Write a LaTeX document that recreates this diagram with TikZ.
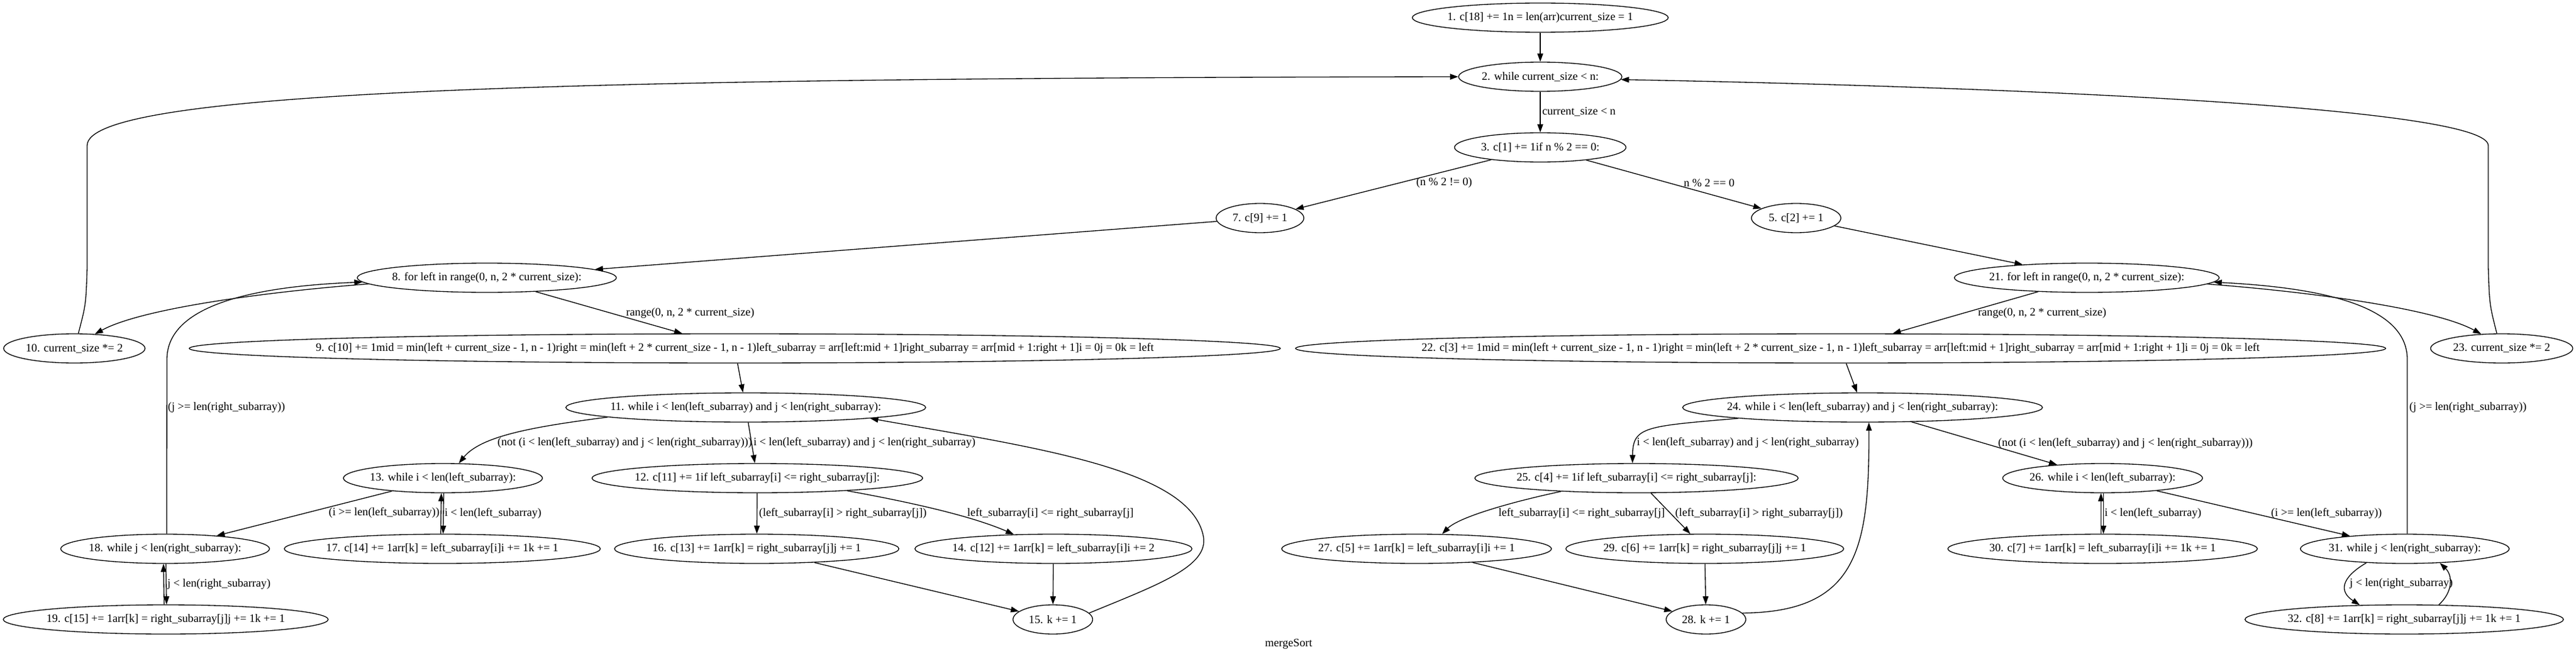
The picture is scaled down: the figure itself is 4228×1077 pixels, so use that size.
\documentclass[tikz,border=0pt]{standalone}
\usepackage{fontspec}
\setmainfont{Liberation Serif}
\usetikzlibrary{arrows.meta,shapes.geometric}

\begin{document}
\begin{tikzpicture}[x=0.75pt, y=-0.75pt,
                    font=\fontsize{14pt}{16pt}\selectfont,
                    stmt/.style={ellipse, draw, line width=1pt, minimum height=36pt,
                                 inner xsep=-600pt, inner ysep=0pt},
                    flow/.style={-{Triangle[length=10pt, width=7pt]}, line width=1pt},
                    cond/.style={anchor=west, inner sep=0pt}]
\useasboundingbox (0,0) rectangle (4228,1077);
\node[stmt, minimum width=315pt] (s1) at (2528,29) {1. c[18] += 1n = len(arr)current\_size = 1};
\node[stmt, minimum width=201pt] (s2) at (2528,126) {2. while current\_size < n:};
\node[stmt, minimum width=211pt] (s3) at (2528,242) {3. c[1] += 1if n \% 2 == 0:};
\node[stmt, minimum width=108pt] (s7) at (2068,358) {7. c[9] += 1};
\node[stmt, minimum width=110pt] (s5) at (2948,358) {5. c[2] += 1};
\node[stmt, minimum width=319pt] (s8) at (799,456) {8. for left in range(0, n, 2 * current\_size):};
\node[stmt, minimum width=326pt] (s21) at (3425,456) {21. for left in range(0, n, 2 * current\_size):};
\node[stmt, minimum width=174pt] (s10) at (122,572) {10. current\_size *= 2};
\node[stmt, minimum width=1343pt] (s9) at (1206,572) {9. c[10] += 1mid = min(left + current\_size - 1, n - 1)right = min(left + 2 * current\_size - 1, n - 1)left\_subarray = arr[left:mid + 1]right\_subarray = arr[mid + 1:right + 1]i = 0j = 0k = left};
\node[stmt, minimum width=1342pt] (s22) at (3021,572) {22. c[3] += 1mid = min(left + current\_size - 1, n - 1)right = min(left + 2 * current\_size - 1, n - 1)left\_subarray = arr[left:mid + 1]right\_subarray = arr[mid + 1:right + 1]i = 0j = 0k = left};
\node[stmt, minimum width=175pt] (s23) at (4106,572) {23. current\_size *= 2};
\node[stmt, minimum width=443pt] (s11) at (1224,669) {11. while i < len(left\_subarray) and j < len(right\_subarray):};
\node[stmt, minimum width=443pt] (s24) at (3057,669) {24. while i < len(left\_subarray) and j < len(right\_subarray):};
\node[stmt, minimum width=245pt] (s13) at (727,785) {13. while i < len(left\_subarray):};
\node[stmt, minimum width=407pt] (s12) at (1243,785) {12. c[11] += 1if left\_subarray[i] <= right\_subarray[j]:};
\node[stmt, minimum width=398pt] (s25) at (2686,785) {25. c[4] += 1if left\_subarray[i] <= right\_subarray[j]:};
\node[stmt, minimum width=246pt] (s26) at (3451,785) {26. while i < len(left\_subarray):};
\node[stmt, minimum width=257pt] (s18) at (271,901) {18. while j < len(right\_subarray):};
\node[stmt, minimum width=389pt] (s17) at (726,901) {17. c[14] += 1arr[k] = left\_subarray[i]i += 1k += 1};
\node[stmt, minimum width=350pt] (s16) at (1242,901) {16. c[13] += 1arr[k] = right\_subarray[j]j += 1};
\node[stmt, minimum width=341pt] (s14) at (1729,901) {14. c[12] += 1arr[k] = left\_subarray[i]i += 2};
\node[stmt, minimum width=332pt] (s27) at (2325,901) {27. c[5] += 1arr[k] = left\_subarray[i]i += 1};
\node[stmt, minimum width=342pt] (s29) at (2798,901) {29. c[6] += 1arr[k] = right\_subarray[j]j += 1};
\node[stmt, minimum width=381pt] (s30) at (3451,901) {30. c[7] += 1arr[k] = left\_subarray[i]i += 1k += 1};
\node[stmt, minimum width=257pt] (s31) at (3947,901) {31. while j < len(right\_subarray):};
\node[stmt, minimum width=400pt] (s19) at (272,1017) {19. c[15] += 1arr[k] = right\_subarray[j]j += 1k += 1};
\node[stmt, minimum width=98pt] (s15) at (1728,1017) {15. k += 1};
\node[stmt, minimum width=98pt] (s28) at (2800,1017) {28. k += 1};
\node[stmt, minimum width=392pt] (s32) at (3946,1017) {32. c[8] += 1arr[k] = right\_subarray[j]j += 1k += 1};
\node (title) at (2115,1057) {mergeSort};

\draw[flow] (s1) -- (s2);
\draw[flow] (s2) -- node[cond, right=2pt] {current\_size < n} (s3);
\draw[flow] (s3) -- (s7) node[cond] at (2324,300) {(n \% 2 != 0)};
\draw[flow] (s3) -- (s5) node[cond] at (2763,300) {n \% 2 == 0};
\draw[flow] (s7) -- (s8);
\draw[flow] (s5) -- (s21);
\draw[flow] (s8) -- (s9) node[cond] at (1027,514) {range(0, n, 2 * current\_size)};
\draw[flow] (s8.183) .. controls (450,478) and (235,505) .. (s10.35);
\draw[flow] (s10.75) .. controls (141,500) .. (143,440) -- (143,239) .. controls (143,150) and (900,128) .. (s2.west);
\draw[flow] (s21) -- (s22) node[cond] at (3246,514) {range(0, n, 2 * current\_size)};
\draw[flow] (s21.-3) .. controls (3778,478) and (3993,505) .. (s23.145);
\draw[flow] (s23.108) .. controls (4086,500) .. (4084,440) -- (4084,239) .. controls (4084,180) and (3400,145) .. (s2.-2);
\draw[flow] (s9) -- (s11);
\draw[flow] (s22) -- (s24);
\draw[flow] (s11) -- node[cond, right=2pt] {i < len(left\_subarray) and j < len(right\_subarray)} (s12);
\draw[flow] (s11.184) .. controls (880,700) and (790,715) .. (s13.43) node[cond] at (816,727) {(not (i < len(left\_subarray) and j < len(right\_subarray)))};
\draw[flow] (s12) -- node[cond, right=2pt] {(left\_subarray[i] > right\_subarray[j])} (s16);
\draw[flow] (s12.-8) .. controls (1480,822) and (1590,845) .. (s14.160) node[cond] at (1587,843) {left\_subarray[i] <= right\_subarray[j]};
\draw[flow] (s16) -- (s15);
\draw[flow] (s14) -- (s15);
\draw[flow] (s15.10) .. controls (1900,960) and (1985,930) .. (1975,880) .. controls (1953,770) and (1700,735) .. (s11.-5);
\draw[flow] (s13) -- (s18) node[cond] at (539,842) {(i >= len(left\_subarray))};
\draw[flow] ([xshift=1pt]s13.south) -- node[cond, right=1pt] {i < len(left\_subarray)} ([xshift=1pt]s17.north);
\draw[flow] ([xshift=-2pt]s17.north) -- ([xshift=-2pt]s13.south);
\draw[flow] ([xshift=2pt]s18.north) -- (274,590) .. controls (274,500) and (420,470) .. (s8.182) node[cond] at (275,669) {(j >= len(right\_subarray))};
\draw[flow] ([xshift=1pt]s18.south) -- node[cond, right=1pt] {j < len(right\_subarray)} ([xshift=1pt]s19.north);
\draw[flow] ([xshift=-2pt]s19.north) -- ([xshift=-2pt]s18.south);
\draw[flow] (s24.185) .. controls (2700,700) and (2680,700) .. (s25.105) node[cond] at (2686,727) {i < len(left\_subarray) and j < len(right\_subarray)};
\draw[flow] (s24) -- (s26) node[cond] at (3279,728) {(not (i < len(left\_subarray) and j < len(right\_subarray)))};
\draw[flow] (s25.190) .. controls (2490,822) and (2395,848) .. (s27.30) node[cond] at (2459,843) {left\_subarray[i] <= right\_subarray[j]};
\draw[flow] (s25) -- (s29) node[cond] at (2749,843) {(left\_subarray[i] > right\_subarray[j])};
\draw[flow] (s27) -- (s28);
\draw[flow] (s29) -- (s28);
\draw[flow] (s28.10) .. controls (3050,1005) and (3068,900) .. (s24.-67);
\draw[flow] ([xshift=1pt]s26.south) -- node[cond, right=1pt] {i < len(left\_subarray)} ([xshift=1pt]s30.north);
\draw[flow] ([xshift=-2pt]s30.north) -- ([xshift=-2pt]s26.south);
\draw[flow] (s26) -- (s31) node[cond] at (3727,843) {(i >= len(left\_subarray))};
\draw[flow] ([xshift=3pt]s31.north) -- (3951,590) .. controls (3951,500) and (3805,472) .. (s21.-2) node[cond] at (3954,669) {(j >= len(right\_subarray))};
\draw[flow] (s31.200) .. controls (3840,950) and (3840,972) .. (s32.162) node[cond] at (3856,958) {j < len(right\_subarray)};
\draw[flow] (s32.23) .. controls (4026,972) and (4026,945) .. (s31.-22);
\end{tikzpicture}
\end{document}
